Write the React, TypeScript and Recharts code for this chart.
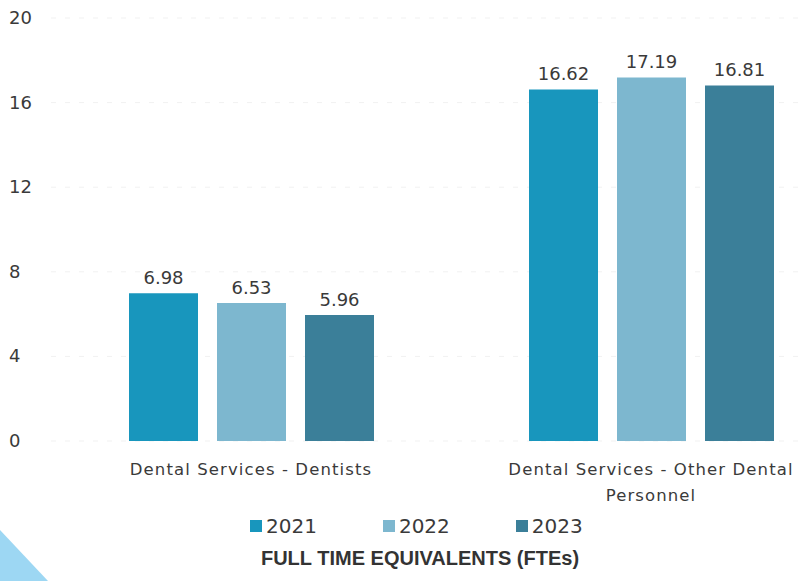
import { BarChart, Bar, XAxis, YAxis, CartesianGrid, LabelList } from 'recharts';

const categories = ['Dental Services - Dentists', 'Dental Services - Other Dental Personnel'];
const fte2021 = [6.98, 16.62];
const fte2022 = [6.53, 17.19];
const fte2023 = [5.96, 16.81];
const yTicks = [0, 4, 8, 12, 16, 20];

const series = [
    { key: 'y2021', name: '2021', color: '#1896bd' },
    { key: 'y2022', name: '2022', color: '#7db7cf' },
    { key: 'y2023', name: '2023', color: '#3b7f99' },
];

const data = categories.map((name, i) => ({
    name,
    y2021: fte2021[i],
    y2022: fte2022[i],
    y2023: fte2023[i],
}));

const FONT = '"DejaVu Sans", sans-serif';
const TEXT = '#3a3a3a';

// break a category name into lines of at most maxChars characters
const wrapLabel = (label: string, maxChars = 30) => {
    const lines: string[] = [];
    let current = '';
    label.split(' ').forEach((word) => {
        const next = current ? `${current} ${word}` : word;
        if (next.length > maxChars && current) {
            lines.push(current);
            current = word;
        } else {
            current = next;
        }
    });
    if (current) lines.push(current);
    return lines;
};

const YTick = ({ y, payload }: any) => (
    <text x={9} y={y} dy={6} fill={TEXT} fontSize={18} fontFamily={FONT} textAnchor="start">
        {payload.value}
    </text>
);

const XTick = ({ x, y, payload }: any) => (
    <text
        x={x}
        y={y + 26}
        fill={TEXT}
        fontSize={16.5}
        fontFamily={FONT}
        textAnchor="middle"
        letterSpacing={1.1}
    >
        {wrapLabel(payload.value).map((line, i) => (
            <tspan key={i} x={x} dy={i === 0 ? 0 : 26}>{line}</tspan>
        ))}
    </text>
);

export default function App() {
    return (
        <div style={{ position: 'absolute', left: 0, top: 0, width: 799, height: 581, overflow: 'hidden', background: '#fff' }}>
            <svg width={60} height={60} style={{ position: 'absolute', left: 0, top: 521 }}>
                <polygon points="0,9 48,60 0,60" fill="#9dd7f3" />
            </svg>
            <BarChart
                width={860}
                height={581}
                data={data}
                margin={{ top: 18, right: 9, bottom: 0, left: 0 }}
                barSize={69}
                barGap={19}
            >
                <CartesianGrid vertical={false} stroke="#f1f1f1" strokeDasharray="5 9" />
                <XAxis
                    dataKey="name"
                    axisLine={false}
                    tickLine={false}
                    height={140}
                    tick={<XTick />}
                    interval={0}
                />
                <YAxis
                    width={51}
                    domain={[0, 20]}
                    ticks={yTicks}
                    axisLine={false}
                    tickLine={false}
                    tick={<YTick />}
                />
                {series.map((s) => (
                    <Bar key={s.key} dataKey={s.key} name={s.name} fill={s.color} isAnimationActive={false}>
                        <LabelList
                            dataKey={s.key}
                            position="top"
                            offset={9}
                            fill={TEXT}
                            fontSize={18}
                            fontFamily={FONT}
                            formatter={(v: any) => Number(v).toFixed(2)}
                        />
                    </Bar>
                ))}
            </BarChart>
            <div style={{
                position: 'absolute', left: 250, top: 512, display: 'flex', gap: 66,
                fontFamily: FONT, fontSize: 20, color: TEXT, lineHeight: '28px',
            }}>
                {series.map((s) => (
                    <div key={s.key} style={{ display: 'flex', alignItems: 'center' }}>
                        <span style={{ width: 12, height: 12, background: s.color, marginRight: 4, display: 'inline-block' }} />
                        <span>{s.name}</span>
                    </div>
                ))}
            </div>
            <div style={{
                position: 'absolute', left: 0, top: 545, width: 840, textAlign: 'center',
                fontFamily: '"Liberation Sans Narrow", "Liberation Sans", sans-serif',
                fontWeight: 700, fontSize: 20, color: '#333', lineHeight: '26px',
            }}>
                FULL TIME EQUIVALENTS (FTEs)
            </div>
        </div>
    );
}
